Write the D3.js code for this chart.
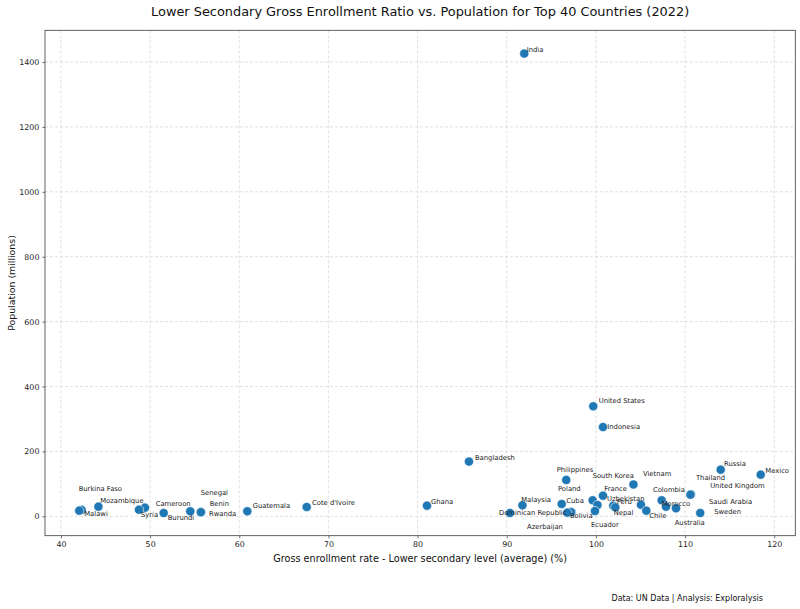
<!DOCTYPE html>
<html><head><meta charset="utf-8">
<script src="https://cdn.jsdelivr.net/npm/d3@7"></script>
<style>body{margin:0;background:#fff}svg{display:block;font-family:"DejaVu Sans",sans-serif}</style>
</head><body>
<svg id="c" width="800" height="609"></svg>
<script>
const countries = ["India","United States","Indonesia","Bangladesh","Russia","Mexico","Philippines","Vietnam","Thailand","United Kingdom","France","South Korea","Colombia","Poland","Uzbekistan","Peru","Nepal","Morocco","Saudi Arabia","Australia","Chile","Ecuador","Sweden","Cuba","Bolivia","Azerbaijan","Malaysia","Dominican Republic","Ghana","Cote d'Ivoire","Guatemala","Benin","Rwanda","Senegal","Burundi","Cameroon","Syria","Mozambique","Burkina Faso","Malawi"];
const enrollment = [91.96,99.70,100.79,85.76,113.99,118.48,96.67,104.21,110.66,110.6,100.79,99.63,107.37,96.16,100.17,101.94,102.17,105.05,107.86,108.98,105.65,99.89,111.7,97.28,97.2,96.79,91.76,90.36,81.05,67.56,60.9,55.67,55.7,54.5,51.52,49.42,48.75,44.2,42.32,42.05];
const population = [1426,339,275,168.5,143.6,128.2,112,98,68,66.5,63.5,49.3,49.3,37.9,34.8,32.7,27.7,35.7,29.6,24.7,17.3,16.3,10.2,13.3,12.8,11.1,33.9,10.2,32.7,28.7,15.4,12.3,12.8,15.4,10.2,26.5,20.3,29.6,19.5,17.3];
const xTicks = [40,50,60,70,80,90,100,110,120];
const yTicks = [0,200,400,600,800,1000,1200,1400];
const title = "Lower Secondary Gross Enrollment Ratio vs. Population for Top 40 Countries (2022)";
const xLabel = "Gross enrollment rate - Lower secondary level (average) (%)";
const yLabel = "Population (millions)";
const footer = "Data: UN Data | Analysis: Exploralysis";

// label offsets in pixels (layout only)
const labelOffsets = {
 "India":[2.4,-3.6],"United States":[5.4,-5.7],"Indonesia":[4.3,0.3],"Bangladesh":[6,-4],
 "Russia":[3.3,-5.7],"Mexico":[4.6,-4],"Philippines":[-9.6,-10.3],"Vietnam":[9.5,-10.5],
 "Thailand":[5,-16.7],"United Kingdom":[19.7,-8.4],"France":[1.3,-7],"South Korea":[0,-24.6],
 "Colombia":[-8.7,-10.6],"Poland":[-3.7,-14.7],"Uzbekistan":[9.5,-6.3],"Peru":[3.4,-4],
 "Nepal":[-1.6,6],"Morocco":[20.7,-0.7],"Saudi Arabia":[43,-4.4],"Australia":[-1.3,14.4],
 "Chile":[3,5],"Ecuador":[-4,13.7],"Sweden":[14,-1.3],"Cuba":[-5.4,-11.3],"Bolivia":[-1,3.7],
 "Azerbaijan":[-40.3,14.6],"Malaysia":[-1.2,-5.3],"Dominican Republic":[-11,0.3],"Ghana":[4,-3.7],
 "Cote d'Ivoire":[5.3,-4],"Guatemala":[5.4,-5],"Benin":[9,-8.6],"Rwanda":[8,1.7],"Senegal":[10.4,-18],
 "Burundi":[4,5.3],"Cameroon":[10.7,-4],"Syria":[2,5],"Mozambique":[1.8,-5.7],
 "Burkina Faso":[-3,-21.3],"Malawi":[5,3]
};

const svg = d3.select("#c");
const L=45, R=795.3, T=30.3, B=535.7;
const x = d3.scaleLinear().domain([38.21,122.36]).range([L,R]);
const y = d3.scaleLinear().domain([-59.8,1497.7]).range([B,T]);

// grid
const g = svg.append("g");
g.selectAll(".gx").data(xTicks).join("line")
 .attr("x1",d=>x(d)).attr("x2",d=>x(d)).attr("y1",T).attr("y2",B)
 .attr("stroke","#d3d3d3").attr("stroke-width",0.7).attr("stroke-dasharray","3,2");
g.selectAll(".gy").data(yTicks).join("line")
 .attr("x1",L).attr("x2",R).attr("y1",d=>y(d)).attr("y2",d=>y(d))
 .attr("stroke","#d3d3d3").attr("stroke-width",0.7).attr("stroke-dasharray","3,2");

// axes
const xa = svg.append("g").attr("transform",`translate(0,${B})`)
 .call(d3.axisBottom(x).tickValues(xTicks).tickSize(2.6).tickPadding(3).tickFormat(d3.format("d")));
const ya = svg.append("g").attr("transform",`translate(${L},0)`)
 .call(d3.axisLeft(y).tickValues(yTicks).tickSize(2.6).tickPadding(3).tickFormat(d3.format("d")));
[xa,ya].forEach(a=>{
 a.select(".domain").remove();
 a.selectAll("text").attr("font-size",7.9).attr("fill","#222").attr("font-family","DejaVu Sans");
 a.selectAll("line").attr("stroke","#333").attr("stroke-width",0.7);
});
svg.append("rect").attr("x",L).attr("y",T).attr("width",R-L).attr("height",B-T)
 .attr("fill","none").attr("stroke","#3a3a3a").attr("stroke-width",0.8);

// points
const data = countries.map((c,i)=>({c, xv:enrollment[i], yv:population[i]}));
svg.append("g").selectAll("circle").data(data).join("circle")
 .attr("cx",d=>x(d.xv)).attr("cy",d=>y(d.yv)).attr("r",4.6)
 .attr("fill","#1f77b4").attr("stroke","#fff").attr("stroke-width",0.6);

// labels
svg.append("g").selectAll("text").data(data).join("text")
 .attr("x",d=>x(d.xv)+labelOffsets[d.c][0]).attr("y",d=>y(d.yv)+labelOffsets[d.c][1])
 .attr("dominant-baseline","central").attr("font-size",6.8).attr("fill","#222")
 .text(d=>d.c);

// titles
svg.append("text").attr("x",(L+R)/2).attr("y",11).attr("text-anchor","middle")
 .attr("dominant-baseline","central").attr("font-size",12.9).attr("fill","#111").text(title);
svg.append("text").attr("x",(L+R)/2).attr("y",558).attr("text-anchor","middle")
 .attr("dominant-baseline","central").attr("font-size",9.7).attr("fill","#111").text(xLabel);
svg.append("text").attr("transform",`translate(11,${(T+B)/2}) rotate(-90)`).attr("text-anchor","middle")
 .attr("dominant-baseline","central").attr("font-size",9.4).attr("fill","#111").text(yLabel);
svg.append("text").attr("x",763).attr("y",598).attr("text-anchor","end")
 .attr("dominant-baseline","central").attr("font-size",8).attr("fill","#111").text(footer);
</script>
</body></html>
